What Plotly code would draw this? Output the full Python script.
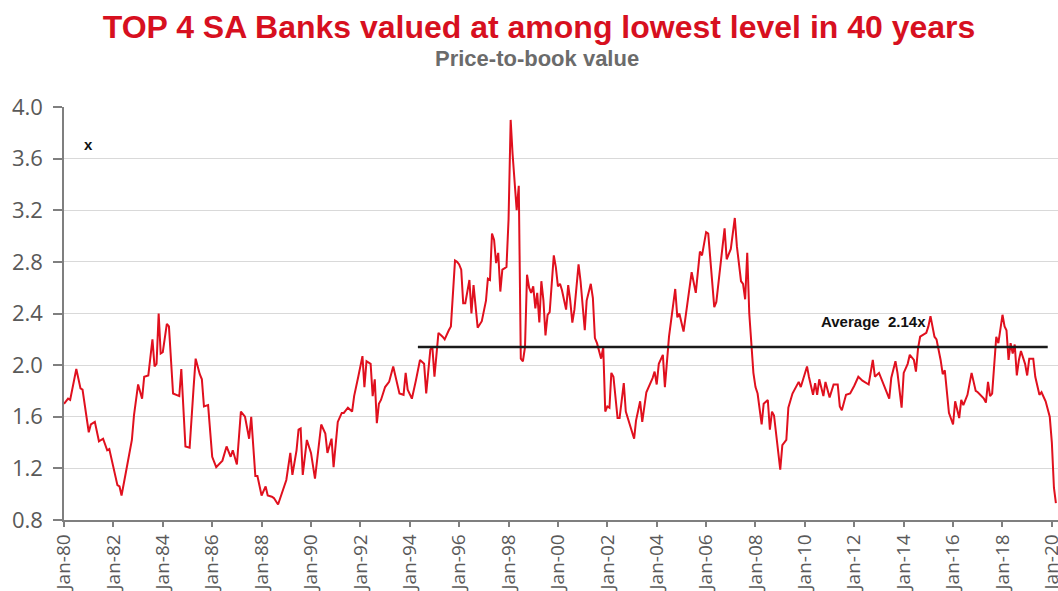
import plotly.graph_objects as go

dates = [
"1980-01","1980-03","1980-04","1980-07","1980-09","1980-10","1981-01","1981-02","1981-04","1981-06",
"1981-08","1981-10","1981-11","1982-01","1982-03","1982-04","1982-05","1982-07","1982-10","1982-11",
"1982-12","1983-01","1983-03","1983-04","1983-06","1983-08","1983-09","1983-10","1983-11","1983-12",
"1984-01","1984-03","1984-04","1984-06","1984-09","1984-10","1984-12","1985-02","1985-04","1985-05",
"1985-07","1985-08","1985-09","1985-11","1986-01","1986-03","1986-06","1986-08","1986-10","1986-11",
"1987-01","1987-03","1987-05","1987-07","1987-08","1987-10","1987-11","1988-01","1988-03","1988-04",
"1988-06","1988-07","1988-09","1988-12","1989-01","1989-03","1989-04","1989-06","1989-07","1989-08",
"1989-09","1989-11","1989-12","1990-01","1990-03","1990-05","1990-06","1990-08","1990-09","1990-11",
"1990-12","1991-02","1991-04","1991-05","1991-07","1991-09","1991-10","1991-12","1992-02","1992-03",
"1992-04","1992-06","1992-07","1992-08","1992-09","1992-10","1992-11","1993-01","1993-03","1993-05",
"1993-07","1993-08","1993-10","1993-11","1993-12","1994-02","1994-04","1994-06","1994-08","1994-09",
"1994-11","1994-12","1995-01","1995-03","1995-05","1995-06","1995-08","1995-09","1995-11","1995-12",
"1996-01","1996-02","1996-03","1996-04","1996-06","1996-07","1996-08","1996-10","1996-12","1997-02",
"1997-03","1997-04","1997-05","1997-06","1997-07","1997-08","1997-09","1997-10","1997-11","1997-12",
"1998-01","1998-02","1998-03","1998-04","1998-05","1998-06","1998-07","1998-08","1998-09","1998-10",
"1998-11","1998-12","1999-01","1999-02","1999-03","1999-04","1999-05","1999-06","1999-07","1999-08",
"1999-09","1999-11","1999-12","2000-01","2000-02","2000-03","2000-05","2000-06","2000-07","2000-08",
"2000-09","2000-11","2000-12","2001-02","2001-03","2001-05","2001-06","2001-07","2001-08","2001-10",
"2001-11","2001-12","2002-01","2002-02","2002-03","2002-04","2002-06","2002-07","2002-09","2002-10",
"2003-02","2003-03","2003-05","2003-06","2003-08","2003-11","2003-12","2004-01","2004-02","2004-04",
"2004-05","2004-07","2004-09","2004-10","2004-11","2004-12","2005-02","2005-03","2005-05","2005-06",
"2005-08","2005-10","2005-11","2006-01","2006-02","2006-03","2006-05","2006-06","2006-08","2006-10",
"2006-11","2007-01","2007-03","2007-04","2007-06","2007-07","2007-08","2007-09","2007-10","2007-12",
"2008-01","2008-02","2008-04","2008-05","2008-07","2008-08","2008-09","2008-10","2009-01","2009-02",
"2009-04","2009-05","2009-07","2009-08","2009-10","2009-11","2010-02","2010-03","2010-05","2010-06",
"2010-07","2010-08","2010-10","2010-11","2011-01","2011-03","2011-05","2011-06","2011-07","2011-09",
"2011-11","2012-01","2012-03","2012-05","2012-08","2012-10","2012-11","2013-01","2013-03","2013-06",
"2013-07","2013-09","2013-10","2013-12","2014-01","2014-03","2014-04","2014-06","2014-07","2014-08",
"2014-09","2014-12","2015-01","2015-02","2015-04","2015-05","2015-07","2015-08","2015-09","2015-11",
"2016-01","2016-02","2016-04","2016-05","2016-06","2016-08","2016-10","2016-12","2017-01","2017-02",
"2017-04","2017-05","2017-06","2017-07","2017-08","2017-10","2017-11","2018-01","2018-02","2018-03",
"2018-04","2018-05","2018-06","2018-07","2018-08","2018-09","2018-10","2018-12","2019-01","2019-02",
"2019-04","2019-05","2019-07","2019-08","2019-09","2019-10","2019-12","2020-01","2020-02","2020-03",
]
pb_values = [
1.70,1.74,1.73,1.97,1.82,1.81,1.48,1.54,1.56,1.41,
1.43,1.34,1.35,1.21,1.07,1.06,0.99,1.16,1.42,1.61,
1.72,1.85,1.74,1.91,1.92,2.20,1.99,2.01,2.40,2.09,
2.10,2.32,2.30,1.78,1.76,1.97,1.37,1.36,1.83,2.05,
1.93,1.89,1.68,1.69,1.29,1.21,1.26,1.37,1.29,1.34,
1.23,1.64,1.60,1.43,1.60,1.14,1.14,0.99,1.06,0.99,
0.98,0.97,0.92,1.06,1.11,1.32,1.15,1.34,1.50,1.51,
1.15,1.42,1.37,1.32,1.12,1.39,1.54,1.47,1.32,1.43,
1.21,1.56,1.63,1.63,1.67,1.64,1.76,1.91,2.07,1.83,
2.03,2.01,1.76,1.89,1.55,1.70,1.73,1.83,1.87,1.99,
1.86,1.78,1.77,1.94,1.81,1.74,1.88,2.04,2.01,1.78,
2.12,2.14,1.91,2.25,2.22,2.20,2.27,2.30,2.81,2.80,
2.78,2.74,2.48,2.48,2.66,2.40,2.62,2.29,2.34,2.50,
2.67,2.66,3.02,2.97,2.79,2.87,2.57,2.74,2.75,2.76,
3.13,3.90,3.64,3.40,3.20,3.39,2.05,2.03,2.14,2.70,
2.60,2.56,2.61,2.44,2.56,2.33,2.65,2.50,2.23,2.39,
2.41,2.85,2.76,2.61,2.63,2.58,2.43,2.62,2.50,2.33,
2.43,2.78,2.65,2.27,2.50,2.63,2.52,2.21,2.17,2.05,
2.14,1.64,1.68,1.67,1.94,1.91,1.59,1.59,1.86,1.64,
1.43,1.57,1.72,1.56,1.79,1.90,1.95,1.85,2.01,2.08,
1.83,2.22,2.50,2.59,2.37,2.40,2.26,2.36,2.60,2.72,
2.56,2.88,2.85,3.03,3.02,2.84,2.45,2.49,2.77,3.06,
2.82,2.90,3.14,2.92,2.65,2.63,2.51,2.87,2.40,1.94,
1.83,1.78,1.54,1.70,1.73,1.50,1.64,1.61,1.19,1.38,
1.42,1.67,1.78,1.81,1.87,1.83,1.99,1.91,1.77,1.86,
1.77,1.89,1.76,1.87,1.75,1.85,1.85,1.68,1.65,1.77,
1.78,1.84,1.91,1.88,1.85,2.04,1.91,1.94,1.86,1.74,
1.90,2.03,1.94,1.67,1.94,2.01,2.08,2.04,1.95,2.13,
2.22,2.25,2.30,2.38,2.22,2.20,2.04,1.93,1.96,1.63,
1.54,1.72,1.59,1.73,1.69,1.77,1.94,1.80,1.79,1.77,
1.74,1.71,1.87,1.76,1.78,2.22,2.17,2.39,2.30,2.27,
2.04,2.17,2.09,2.16,1.92,2.04,2.11,2.01,1.92,2.05,
2.05,1.91,1.77,1.79,1.75,1.72,1.60,1.40,1.05,0.93,
]

avg_dates = ["1994-05", "2019-11"]
avg_value = 2.14
avg_label = "Average  2.14x"

tick_dates = [f"{y}-01-01" for y in range(1980, 2021, 2)]
y_ticks = [0.8, 1.2, 1.6, 2.0, 2.4, 2.8, 3.2, 3.6, 4.0]

title_text = "TOP 4 SA Banks valued at among lowest level in 40 years"
subtitle_text = "Price-to-book value"
unit_text = "x"

RED = "#e0101e"
NARROW = "Liberation Sans Narrow, Arial Narrow, Liberation Sans, sans-serif"
TICKFONT = "Open Sans, sans-serif"

fig = go.Figure()
fig.add_trace(go.Scatter(
    x=dates, y=pb_values, mode="lines",
    line=dict(color=RED, width=2), hoverinfo="skip", showlegend=False,
))
fig.add_trace(go.Scatter(
    x=avg_dates, y=[avg_value, avg_value], mode="lines",
    line=dict(color="#1a1a1a", width=2.5), hoverinfo="skip", showlegend=False,
))

fig.update_layout(
    width=1058, height=591,
    margin=dict(l=64, r=0, t=107, b=71),
    paper_bgcolor="white", plot_bgcolor="white",
    title=dict(
        text=title_text, x=539/1058, xanchor="center", xref="container",
        y=1 - 27/591, yanchor="middle", yref="container",
        font=dict(family=NARROW, size=32, color="#d7101f", weight="bold"),
    ),
    font=dict(family=TICKFONT),
)

fig.update_xaxes(
    type="date", range=["1980-01-01", "2020-04-01"],
    tickvals=tick_dates, tickformat="%b-%y", tickangle=-90,
    showgrid=False, zeroline=False,
    showline=True, linecolor="#7f7f7f", linewidth=1.5,
    ticks="outside", ticklen=5, tickcolor="#7f7f7f", tickwidth=1.5,
    tickfont=dict(family=TICKFONT, size=19, color="#595959"),
    ticklabeloverflow="allow",
    automargin=False,
)
fig.update_yaxes(
    range=[0.8, 4.0], tickvals=y_ticks, tickformat=".1f",
    showgrid=True, gridcolor="#d9d9d9", gridwidth=1, zeroline=False,
    showline=True, linecolor="#7f7f7f", linewidth=1.5,
    ticks="outside", ticklen=9, tickcolor="#7f7f7f", tickwidth=1.5,
    ticklabelstandoff=6,
    tickfont=dict(family=TICKFONT, size=22, color="#595959"),
    automargin=False,
)

fig.add_annotation(
    text=subtitle_text, xref="paper", yref="paper",
    x=(536.5 - 64) / 994, y=(520 - 58) / 413, xanchor="center", yanchor="middle",
    showarrow=False, font=dict(family=NARROW, size=22, color="#6b6b6b", weight="bold"),
)
fig.add_annotation(
    text=avg_label, x="2012-10-15", y=2.34, xanchor="center", yanchor="middle",
    showarrow=False, font=dict(family=NARROW, size=15, color="#111111", weight="bold"),
)
fig.add_annotation(
    text=unit_text, x="1981-01-01", y=3.71, xanchor="center", yanchor="middle",
    showarrow=False, font=dict(family=NARROW, size=15, color="#111111", weight="bold"),
)

fig.write_html(
    "out.html",
    config={"displayModeBar": False},
    post_script="document.body.style.margin='0px';document.body.style.overflow='hidden';",
)
